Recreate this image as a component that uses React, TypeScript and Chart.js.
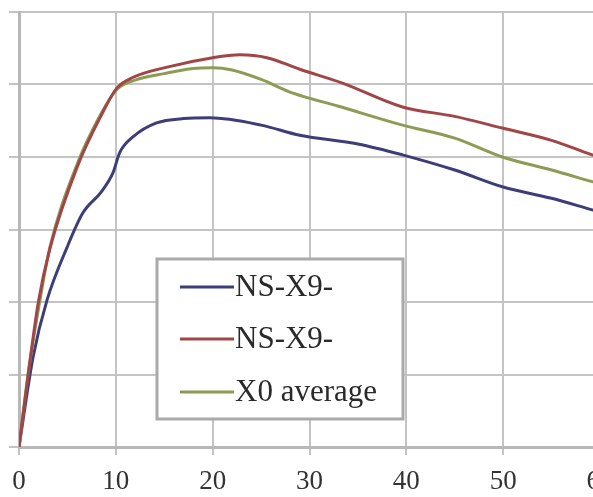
import React, { useEffect, useRef } from "react";
import { Chart, registerables } from "chart.js";

Chart.register(...registerables);

const xTicks = [0, 10, 20, 30, 40, 50, 60];

const blueLabel = "NS-X9-";
const blueX = [0, 1.45, 2.9, 4.95, 6.6, 8.5, 9.7, 10.4, 11.8, 14.2, 17, 19.7, 25, 29, 35, 39.6, 45, 49.9, 55, 59.2, 60];
const blueY = [0, 1.24, 2.03, 2.75, 3.23, 3.52, 3.78, 4.06, 4.28, 4.47, 4.53, 4.54, 4.44, 4.3, 4.18, 4.03, 3.82, 3.59, 3.43, 3.27, 3.24];

const redLabel = "NS-X9-";
const redX = [0, 1, 2, 3.2, 6, 8.4, 10.1, 11.8, 15.3, 20, 22.8, 25.6, 29, 33.4, 39.6, 45, 49.9, 55, 59.2, 60];
const redY = [0, 1.05, 2.0, 2.74, 3.86, 4.55, 4.95, 5.1, 5.24, 5.37, 5.41, 5.37, 5.21, 5.02, 4.69, 4.56, 4.4, 4.23, 4.03, 4.0];

const greenLabel = "X0 average";
const greenX = [0, 0.93, 2.17, 3.2, 6, 8.4, 10.1, 12, 15, 18, 20, 22, 25, 28.3, 33, 39.6, 45, 49.9, 55, 59.2, 60];
const greenY = [0, 1.0, 2.03, 2.76, 3.9, 4.58, 4.93, 5.06, 5.15, 5.22, 5.23, 5.2, 5.07, 4.88, 4.7, 4.44, 4.26, 4.0, 3.82, 3.66, 3.63];

const pts = (xs: number[], ys: number[]) => xs.map((x, i) => ({ x, y: ys[i] }));

const legendPlugin = {
  id: "boxLegend",
  afterDraw(chart: any) {
    const ctx = chart.ctx;
    const left = 157, top = 259, w = 246, h = 160;
    ctx.save();
    ctx.fillStyle = "#ffffff";
    ctx.fillRect(left, top, w, h);
    ctx.strokeStyle = "#aaaaaa";
    ctx.lineWidth = 3;
    ctx.strokeRect(left, top, w, h);
    const rows = [287, 339, 392];
    chart.data.datasets.forEach((ds: any, i: number) => {
      const y = rows[i];
      ctx.strokeStyle = ds.borderColor;
      ctx.lineWidth = 3;
      ctx.beginPath();
      ctx.moveTo(180, y);
      ctx.lineTo(234, y);
      ctx.stroke();
      ctx.fillStyle = "#2a2a2a";
      ctx.font = "31px 'Liberation Serif'";
      ctx.textBaseline = "middle";
      ctx.textAlign = "left";
      ctx.fillText(ds.label, 235, y + 1);
    });
    ctx.restore();
  },
};

export default function App() {
  const ref = useRef<HTMLCanvasElement | null>(null);
  useEffect(() => {
    if (!ref.current) return;
    const chart = new Chart(ref.current, {
      type: "line",
      data: {
        datasets: [
          { label: blueLabel, data: pts(blueX, blueY), borderColor: "#3d3d7a", order: 2 },
          { label: redLabel, data: pts(redX, redY), borderColor: "#a04646", order: 0 },
          { label: greenLabel, data: pts(greenX, greenY), borderColor: "#8d9c55", order: 1 },
        ] as any,
      },
      options: {
        animation: false,
        responsive: false,
        layout: { padding: { left: 0, right: 40, top: 12, bottom: 0 } },
        elements: {
          line: { borderWidth: 3, cubicInterpolationMode: "monotone", fill: false },
          point: { radius: 0 },
        },
        plugins: { legend: { display: false }, tooltip: { enabled: false } },
        scales: {
          x: {
            type: "linear",
            min: 0,
            max: 60,
            afterBuildTicks: (s: any) => {
              s.ticks = xTicks.map((v) => ({ value: v }));
            },
            afterFit: (s: any) => {
              s.height = 50;
            },
            grid: { color: "#c4c4c4", lineWidth: 2, tickLength: 8 },
            border: { color: "#b8b8b8", width: 3 },
            ticks: {
              color: "#333333",
              font: { family: "'Liberation Serif'", size: 27 },
              padding: 11,
              maxRotation: 0,
            },
          },
          y: {
            type: "linear",
            min: 0,
            max: 6,
            afterFit: (s: any) => {
              s.width = 19;
            },
            grid: { color: "#c4c4c4", lineWidth: 2, tickLength: 10 },
            border: { color: "#b8b8b8", width: 3 },
            ticks: { display: false, stepSize: 1 },
          },
        },
      },
      plugins: [legendPlugin],
    });
    return () => chart.destroy();
  }, []);
  return (
    <div style={{ position: "fixed", left: 0, top: 0, width: 593, height: 497, overflow: "hidden", background: "#fff" }}>
      <canvas ref={ref} width={640} height={497} style={{ display: "block" }} />
    </div>
  );
}
